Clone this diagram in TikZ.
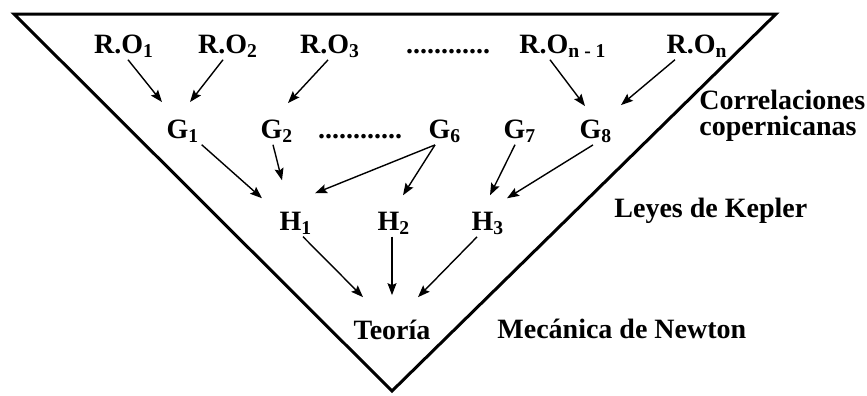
\documentclass[tikz,border=0pt]{standalone}
\usepackage{fontspec}
\setmainfont{Liberation Serif}
\usetikzlibrary{arrows.meta}
\tikzset{
  lbl/.style={font=\fontsize{14}{13}\selectfont\bfseries,inner sep=1pt,anchor=base},
  side/.style={lbl,anchor=base west,align=left},
  conn/.style={-{Stealth[length=6pt,width=4.5pt,inset=1pt]},line width=0.7pt},
  frame/.style={line width=1.5pt,line join=miter},
}

\begin{document}
\begin{tikzpicture}[x=0.5pt,y=-0.5pt]
  \useasboundingbox (0,0) rectangle (867,396);
  \draw[frame] (14,14) -- (776,14) -- (392,391) -- cycle;
  % observaciones
  \node[lbl] (ro1)   at (124,53) {R.O\textsubscript{1}};
  \node[lbl] (ro2)   at (228,53) {R.O\textsubscript{2}};
  \node[lbl] (ro3)   at (330,53) {R.O\textsubscript{3}};
  \node[lbl] (dots1) at (448,53) {............};
  \node[lbl] (ron1)  at (563,53) {R.O\textsubscript{n - 1}};
  \node[lbl] (ron)   at (697,53) {R.O\textsubscript{n}};
  % correlaciones
  \node[lbl] (g1)    at (183,138) {G\textsubscript{1}};
  \node[lbl] (g2)    at (277,138) {G\textsubscript{2}};
  \node[lbl] (dots2) at (360,138) {............};
  \node[lbl] (g6)    at (445,138) {G\textsubscript{6}};
  \node[lbl] (g7)    at (520,138) {G\textsubscript{7}};
  \node[lbl] (g8)    at (596,138) {G\textsubscript{8}};
  % leyes
  \node[lbl] (h1)    at (296,230) {H\textsubscript{1}};
  \node[lbl] (h2)    at (394,230) {H\textsubscript{2}};
  \node[lbl] (h3)    at (488,230) {H\textsubscript{3}};
  \node[lbl] (teo)   at (392,339) {Teoría};
  % niveles
  \node[side] (corr)   at (697,135) {Correlaciones\\copernicanas};
  \node[side] (kepler) at (612,217) {Leyes de Kepler};
  \node[side] (newton) at (495,338) {Mecánica de Newton};
  \draw[conn] ([xshift=2pt]ro1.south) -- ([xshift=-10.5pt,yshift=7.5pt]g1.north);
  \draw[conn] ([xshift=-2.5pt]ro2.south) -- ([xshift=3.5pt,yshift=7.5pt]g1.north);
  \draw[conn] ([xshift=-1pt]ro3.south) -- ([xshift=5.5pt,yshift=7pt]g2.north);
  \draw[conn] ([xshift=-6.5pt]ron1.south) -- ([xshift=-5.5pt,yshift=5.5pt]g8.north);
  \draw[conn] ([xshift=-11pt]ron.south) -- ([xshift=12.5pt,yshift=6pt]g8.north);
  \draw[conn] (g1.south east) -- ([xshift=-17pt,yshift=5.5pt]h1.north);
  \draw[conn] ([xshift=-2pt]g2.south) -- ([xshift=-7pt,yshift=14.5pt]h1.north);
  \draw[conn] ([xshift=-5pt]g6.south) -- ([xshift=9.5pt,yshift=8pt]h1.north);
  \draw[conn] ([xshift=-5pt]g6.south) -- ([xshift=4.5pt,yshift=7pt]h2.north);
  \draw[conn] ([xshift=-2.5pt]g7.south) -- ([xshift=1pt,yshift=7pt]h3.north);
  \draw[conn] ([xshift=-1.5pt]g8.south) -- ([xshift=9.5pt,yshift=5.5pt]h3.north);
  \draw[conn] ([xshift=3.5pt]h1.south) -- ([xshift=-14.5pt,yshift=10pt]teo.north);
  \draw[conn] ([xshift=-1pt]h2.south) -- ([yshift=11pt]teo.north);
  \draw[conn] ([xshift=-5.5pt]h3.south) -- ([xshift=13pt,yshift=10pt]teo.north);
\end{tikzpicture}
\end{document}
